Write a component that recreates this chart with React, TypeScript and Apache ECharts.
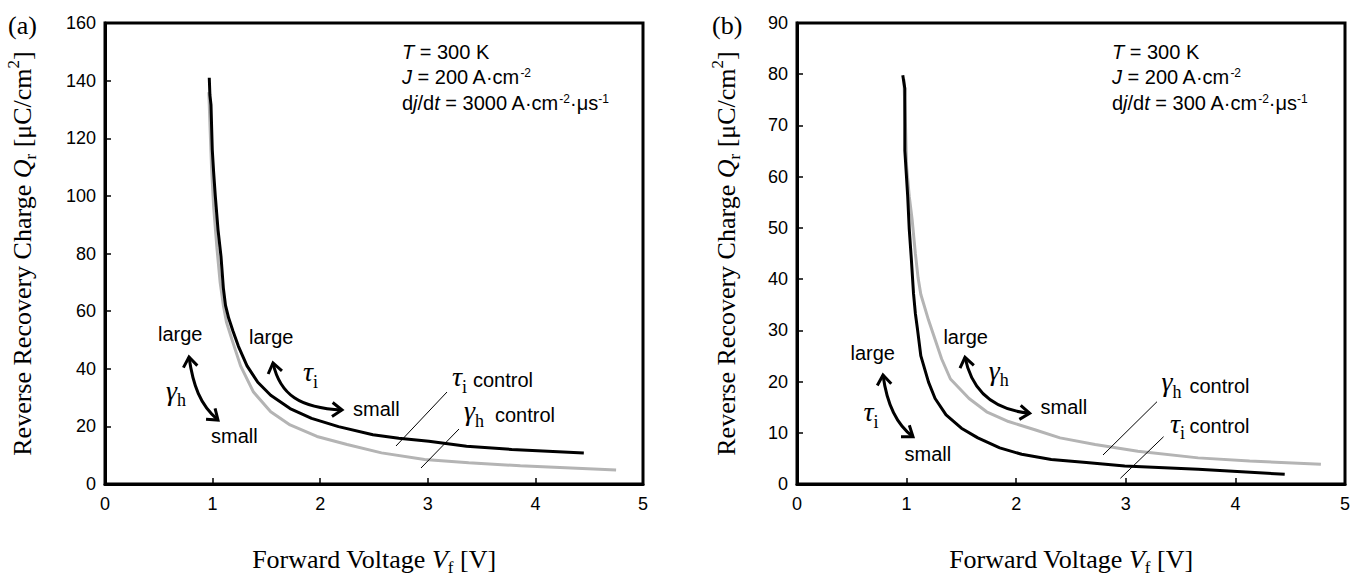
import React, { useEffect, useRef } from 'react';
import * as echarts from 'echarts';

const SANS = '"Liberation Sans", Arial, Helvetica, sans-serif';
const SERIF = '"Liberation Serif", "Times New Roman", Times, serif';
const GRAY = '#b4b4b4';

// Tick values
const X_TICKS = [0, 1, 2, 3, 4, 5];
const Y_TICKS_A = [0, 20, 40, 60, 80, 100, 120, 140, 160];
const Y_TICKS_B = [0, 10, 20, 30, 40, 50, 60, 70, 80, 90];

// Panel (a): dj/dt = 3000 A·cm-2·μs-1  [Vf (V), Qr (μC/cm2)]
const A_TAU_CONTROL = [
  [0.969, 141], [0.975, 135], [0.985, 131.6], [0.997, 116], [1.01, 108], [1.025, 100],
  [1.05, 88.4], [1.078, 79], [1.1, 68], [1.12, 62], [1.15, 57.5], [1.19, 53], [1.24, 47.8],
  [1.32, 41], [1.42, 35.3], [1.54, 30.8], [1.72, 26.2], [1.92, 22.8], [2.17, 19.9],
  [2.49, 17.1], [2.73, 15.9], [3.01, 14.8], [3.36, 13.1], [3.78, 12.0], [4.45, 10.8],
];
const A_GAMMA_CONTROL = [
  [0.965, 136], [0.975, 125], [0.99, 110], [1.01, 96], [1.04, 82], [1.07, 70],
  [1.1, 62], [1.13, 56], [1.18, 50.1], [1.26, 41], [1.38, 31.9], [1.54, 25.1], [1.72, 20.5],
  [1.97, 16.5], [2.25, 13.7], [2.57, 10.8], [2.97, 8.5], [3.38, 7.4], [3.86, 6.3], [4.75, 4.9],
];

// Panel (b): dj/dt = 300 A·cm-2·μs-1
const B_TAU_CONTROL = [
  [0.965, 79.8], [0.984, 77.2], [0.984, 65.1], [1.01, 56.2], [1.024, 49.8], [1.043, 44],
  [1.063, 37.2], [1.08, 33.3], [1.1, 30.1], [1.13, 25], [1.2, 19.9], [1.26, 16.7],
  [1.36, 13.5], [1.5, 10.9], [1.65, 9.0], [1.85, 7.05], [2.05, 5.8], [2.32, 4.8],
  [2.64, 4.2], [2.99, 3.5], [3.66, 2.9], [4.45, 1.9],
];
const B_GAMMA_CONTROL = [
  [0.975, 79], [0.99, 70], [1.0, 62], [1.024, 56.2], [1.05, 51.7], [1.08, 45],
  [1.105, 40.2], [1.13, 37], [1.2, 32], [1.26, 28.2], [1.32, 24.4], [1.4, 20.5],
  [1.57, 16.7], [1.73, 14.1], [1.93, 12.2], [2.17, 10.6], [2.4, 9.0], [2.72, 7.7],
  [3.11, 6.4], [3.66, 5.1], [4.13, 4.5], [4.78, 3.85],
];

const RICH_TXT: any = {
  n: { fontFamily: SANS, fontSize: 20, fill: '#000', color: '#000' },
  it: { fontFamily: SANS, fontSize: 20, fontStyle: 'italic', fill: '#000', color: '#000' },
  sup: { fontFamily: SANS, fontSize: 12, verticalAlign: 'top', fill: '#000', color: '#000' },
  g: { fontFamily: SERIF, fontSize: 28, fontStyle: 'italic', fill: '#000', color: '#000' },
  s: { fontFamily: SERIF, fontSize: 18, verticalAlign: 'bottom', lineHeight: 38, fill: '#000', color: '#000' },
};

function txt(x: number, y: number, text: string, size = 20, family = SANS) {
  return {
    type: 'text', x, y, silent: true, z: 100,
    style: {
      text, rich: RICH_TXT, fill: '#000', fontFamily: family, fontSize: size,
      align: 'left', verticalAlign: 'middle', textAlign: 'left', textVerticalAlign: 'middle',
    },
  };
}

function leader(x1: number, y1: number, x2: number, y2: number) {
  return { type: 'line', silent: true, z: 100, shape: { x1, y1, x2, y2 }, style: { stroke: '#000', lineWidth: 1 } };
}

function head(tip: number[], from: number[]) {
  const dx = tip[0] - from[0];
  const dy = tip[1] - from[1];
  const len = Math.hypot(dx, dy);
  const ux = dx / len, uy = dy / len;
  const L = 12, a = Math.PI / 5;
  const c = Math.cos(a), s = Math.sin(a);
  const w1 = [tip[0] - L * (ux * c - uy * s), tip[1] - L * (uy * c + ux * s)];
  const w2 = [tip[0] - L * (ux * c + uy * s), tip[1] - L * (uy * c - ux * s)];
  return {
    type: 'polyline', silent: true, z: 100,
    shape: { points: [w1, tip, w2] },
    style: { stroke: '#000', lineWidth: 3, fill: null, lineJoin: 'miter' },
  };
}

function arrow(p0: number[], p1: number[], p2: number[], p3: number[]) {
  return [
    {
      type: 'bezierCurve', silent: true, z: 100,
      shape: { x1: p0[0], y1: p0[1], cpx1: p1[0], cpy1: p1[1], cpx2: p2[0], cpy2: p2[1], x2: p3[0], y2: p3[1] },
      style: { stroke: '#000', lineWidth: 3, fill: null },
    },
    head(p0, p1),
    head(p3, p2),
  ];
}

const AXIS_RICH: any = {
  n: { fontFamily: SERIF, fontSize: 26, color: '#000' },
  i: { fontFamily: SERIF, fontSize: 26, fontStyle: 'italic', color: '#000' },
  s: { fontFamily: SERIF, fontSize: 17, verticalAlign: 'bottom', lineHeight: 34, color: '#000' },
  p: { fontFamily: SERIF, fontSize: 17, verticalAlign: 'top', color: '#000' },
};

function xAxis(gridIndex: number) {
  return {
    type: 'value', gridIndex,
    min: X_TICKS[0], max: X_TICKS[X_TICKS.length - 1], interval: X_TICKS[1] - X_TICKS[0],
    axisLine: { show: true, onZero: false, lineStyle: { color: '#000', width: 3 } },
    axisTick: { show: true, inside: true, length: 6, lineStyle: { color: '#000', width: 1.5 } },
    axisLabel: { color: '#000', fontFamily: SANS, fontSize: 18, margin: 11 },
    splitLine: { show: false },
    name: '{n|Forward Voltage }{i|V}{s|f}{n| [V]}',
    nameLocation: 'middle', nameGap: 58,
    nameTextStyle: { rich: AXIS_RICH },
  };
}

function yAxis(gridIndex: number, ticks: number[], nameGap: number) {
  return {
    type: 'value', gridIndex,
    min: ticks[0], max: ticks[ticks.length - 1], interval: ticks[1] - ticks[0],
    axisLine: { show: true, onZero: false, lineStyle: { color: '#000', width: 3 } },
    axisTick: { show: true, inside: true, length: 6, lineStyle: { color: '#000', width: 1.5 } },
    axisLabel: { color: '#000', fontFamily: SANS, fontSize: 18, margin: 9 },
    splitLine: { show: false },
    name: '{n|Reverse Recovery Charge }{i|Q}{s|r}{n| [μC/cm}{p|2}{n|]}',
    nameLocation: 'middle', nameGap,
    nameTextStyle: { rich: AXIS_RICH },
  };
}

function line(data: number[][], idx: number, color: string) {
  return {
    type: 'line', xAxisIndex: idx, yAxisIndex: idx, data,
    showSymbol: false, symbol: 'none', smooth: false, silent: true,
    lineStyle: { color, width: 3 },
  };
}

export default function App() {
  const ref = useRef<HTMLDivElement>(null);

  useEffect(() => {
    const chart = echarts.init(ref.current as HTMLDivElement, null, { renderer: 'svg' });

    const graphics: any[] = [
      // panel labels
      txt(8, 25, '(a)', 26, SERIF),
      txt(712, 25, '(b)', 26, SERIF),

      // panel (a) conditions
      txt(402, 51.6, '{it|T}{n| = 300 K}'),
      txt(402, 77, '{it|J}{n| = 200 A·cm}{sup|-2}'),
      txt(402, 103, '{n|d}{it|j}{n|/d}{it|t}{n| = 3000 A·cm}{sup|-2}{n|·μs}{sup|-1}'),
      // panel (a) annotations
      txt(158, 334, 'large'),
      txt(249, 336.6, 'large'),
      txt(353, 408.6, 'small'),
      txt(211, 436, 'small'),
      txt(166, 390, '{g|γ}{s|h}'),
      txt(303, 371.5, '{g|τ}{s|i}'),
      txt(452, 376.5, '{g|τ}{s|i}'),
      txt(473, 379.8, 'control'),
      txt(464, 410.5, '{g|γ}{s|h}'),
      txt(495, 414.8, 'control'),
      leader(447, 392, 396, 446),
      leader(459, 429, 421, 468),
      ...arrow([189, 357], [193, 385], [200, 405], [218, 420]),
      ...arrow([273, 363], [280, 395], [300, 408], [342, 410]),

      // panel (b) conditions
      txt(1112, 51.6, '{it|T}{n| = 300 K}'),
      txt(1112, 77, '{it|J}{n| = 200 A·cm}{sup|-2}'),
      txt(1112, 103, '{n|d}{it|j}{n|/d}{it|t}{n| = 300 A·cm}{sup|-2}{n|·μs}{sup|-1}'),
      // panel (b) annotations
      txt(850.5, 352.6, 'large'),
      txt(863.5, 411.5, '{g|τ}{s|i}'),
      txt(904.5, 454, 'small'),
      txt(943.4, 337.4, 'large'),
      txt(988.7, 370, '{g|γ}{s|h}'),
      txt(1040.5, 407.4, 'small'),
      txt(1161.4, 381.5, '{g|γ}{s|h}'),
      txt(1189.5, 386, 'control'),
      txt(1170, 423, '{g|τ}{s|i}'),
      txt(1189.5, 426, 'control'),
      leader(1157, 401.7, 1103, 455),
      leader(1163.6, 436.7, 1120.4, 478.3),
      ...arrow([883, 375], [887, 405], [897, 425], [913, 436.7]),
      ...arrow([965, 357.3], [972, 392], [995, 410], [1029.7, 413.3]),
    ];

    const option: any = {
      animation: false,
      backgroundColor: '#ffffff',
      grid: [
        { left: 105, top: 23, width: 538, height: 470, show: true, borderColor: '#000', borderWidth: 3, backgroundColor: 'transparent' },
        { left: 797, top: 23, width: 548, height: 470, show: true, borderColor: '#000', borderWidth: 3, backgroundColor: 'transparent' },
      ],
      xAxis: [xAxis(0), xAxis(1)],
      yAxis: [yAxis(0, Y_TICKS_A, 66), yAxis(1, Y_TICKS_B, 54)],
      series: [
        line(A_GAMMA_CONTROL, 0, GRAY),
        line(A_TAU_CONTROL, 0, '#000'),
        line(B_GAMMA_CONTROL, 1, GRAY),
        line(B_TAU_CONTROL, 1, '#000'),
      ],
      graphic: graphics,
    };

    chart.setOption(option);
    return () => chart.dispose();
  }, []);

  return (
    <div
      ref={ref}
      style={{ position: 'absolute', left: 0, top: 0, width: 1357, height: 581, background: '#fff' }}
    />
  );
}
